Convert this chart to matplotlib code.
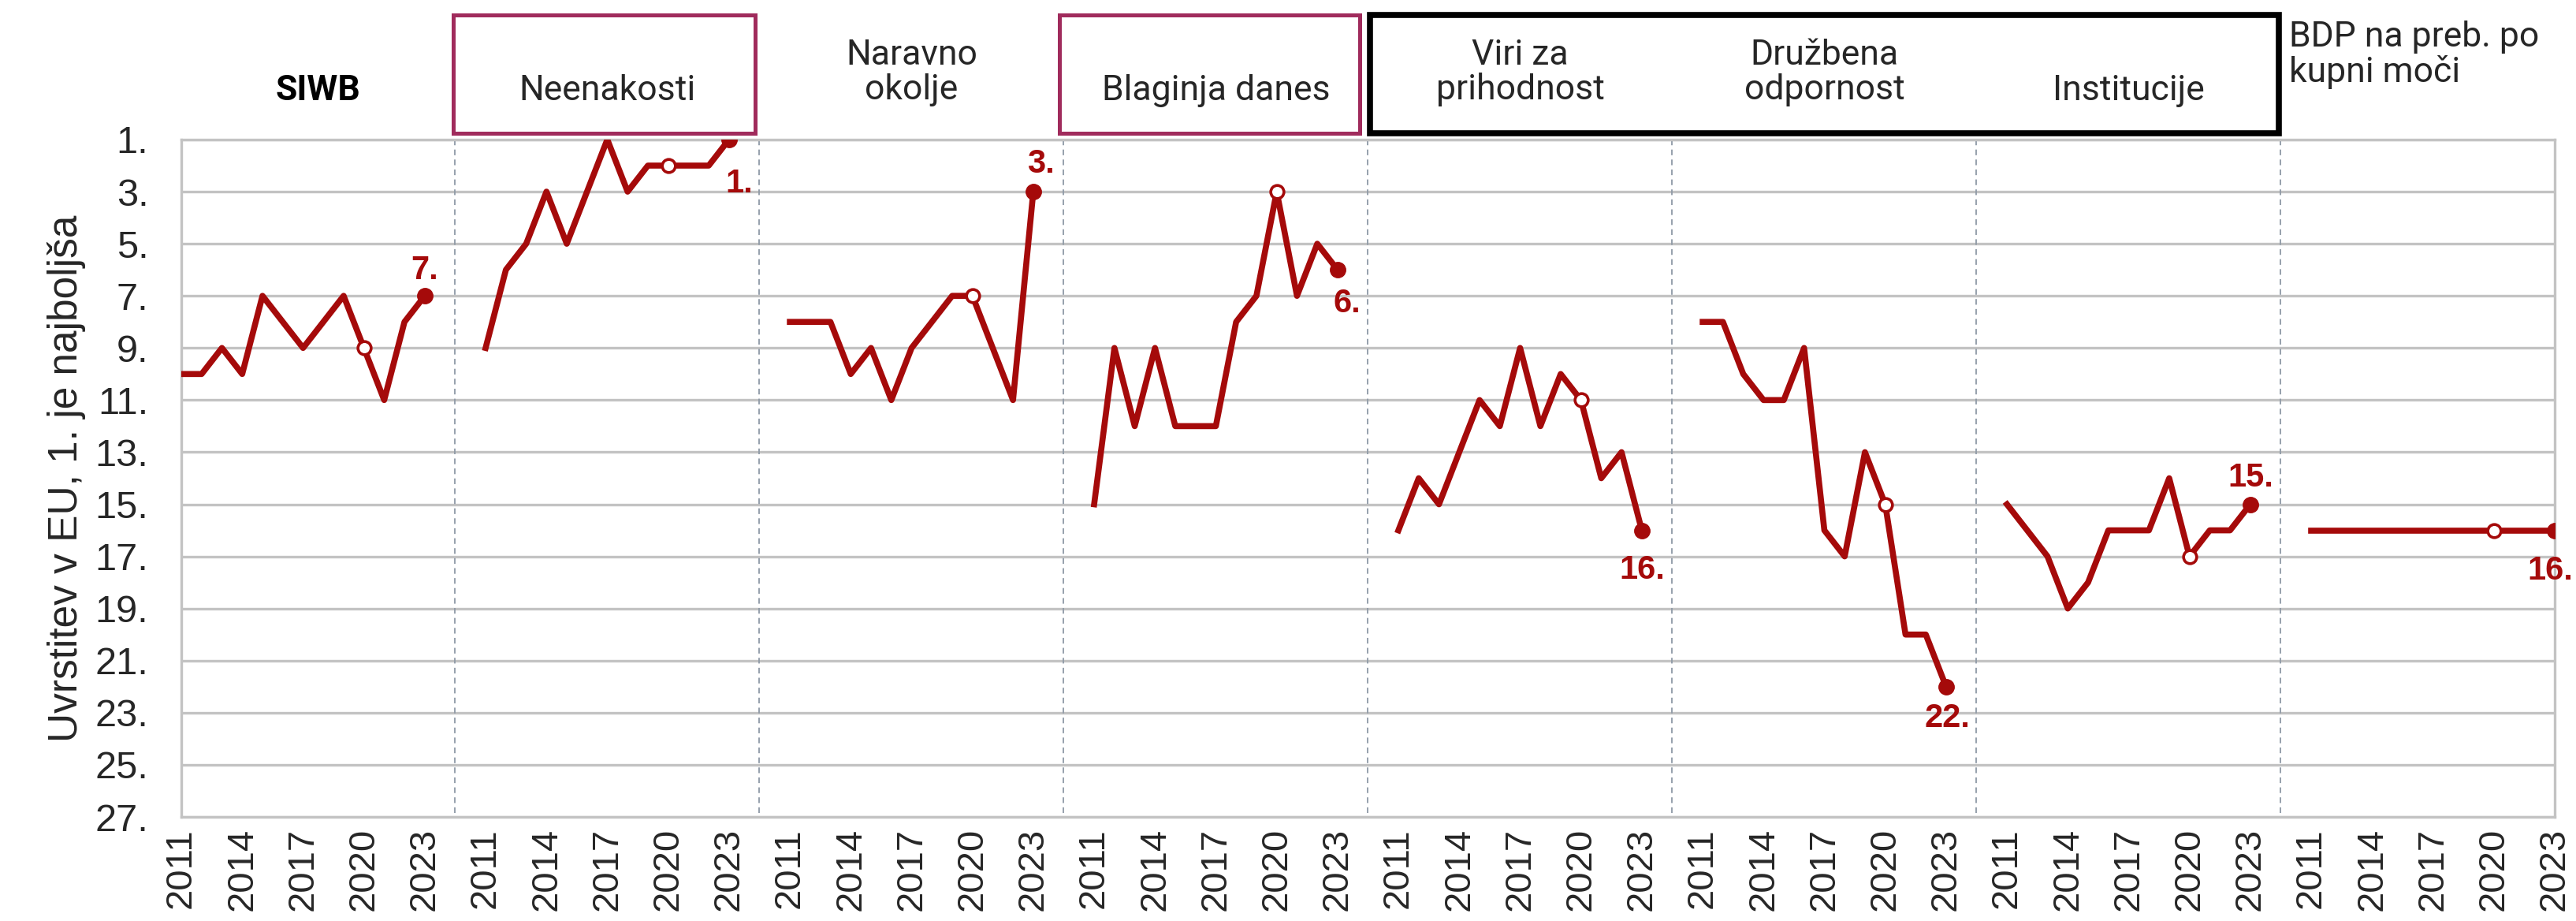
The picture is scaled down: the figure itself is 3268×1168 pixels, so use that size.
import numpy as np
import matplotlib
matplotlib.use("Agg")
import matplotlib.pyplot as plt
from matplotlib.patches import Rectangle
from matplotlib.transforms import blended_transform_factory

# ── data ────────────────────────────────────────────────────────────────────
YEARS = list(range(2011, 2024))
YEAR_TICKS = [2011, 2014, 2017, 2020, 2023]
RANK_TICKS = list(range(1, 28, 2))

PANELS = ["SIWB", "Neenakosti", "Naravno\nokolje", "Blaginja danes",
          "Viri za\nprihodnost", "Družbena\nodpornost", "Institucije",
          "BDP na preb. po\nkupni moči"]

siwb        = [10, 10, 9, 10, 7, 8, 9, 8, 7, 9, 11, 8, 7]
neenakosti  = [9, 6, 5, 3, 5, 3, 1, 3, 2, 2, 2, 2, 1]
naravno     = [8, 8, 8, 10, 9, 11, 9, 8, 7, 7, 9, 11, 3]
blaginja    = [15, 9, 12, 9, 12, 12, 12, 8, 7, 3, 7, 5, 6]
viri        = [16, 14, 15, 13, 11, 12, 9, 12, 10, 11, 14, 13, 16]
druzbena    = [8, 8, 10, 11, 11, 9, 16, 17, 13, 15, 20, 20, 22]
institucije = [15, 16, 17, 19, 18, 16, 16, 16, 14, 17, 16, 16, 15]
bdp         = [16, 16, 16, 16, 16, 16, 16, 16, 16, 16, 16, 16, 16]

SERIES = [siwb, neenakosti, naravno, blaginja, viri, druzbena, institucije, bdp]

# ── style ───────────────────────────────────────────────────────────────────
RED    = "#A50A0A"
GRID   = "#C3C3C3"
SEP    = "#8E99A6"
MAROON = "#A02B5C"
TXT    = "#262626"
STEP   = 15              # categories per panel (13 years + 2 gap)
OPEN_YEAR = 2020

# label offsets in points (dx, dy) for the last value of each panel
LABEL_OFF = [(0, 23), (9, -40), (7, 25), (9, -31), (0, -36), (1, -29), (0, 24), (-4, -37)]

plt.rcParams["font.family"] = ["Liberation Sans", "DejaVu Sans"]

fig = plt.figure(figsize=(32.68, 11.68), dpi=100)
ax = fig.add_axes([0.0704, 0.113, 0.9213, 0.7355])

n_years = len(YEARS)
i_open = YEARS.index(OPEN_YEAR)

for i, vals in enumerate(SERIES):
    xs = i * STEP + np.arange(n_years)
    ax.plot(xs, vals, color=RED, lw=5.5, solid_joinstyle="round", zorder=3)
    ax.plot(xs[i_open], vals[i_open], "o", ms=12, mfc="white", mec=RED, mew=2.6, zorder=4)
    ax.plot(xs[-1], vals[-1], "o", ms=14, color=RED, zorder=4)
    dx, dy = LABEL_OFF[i]
    ax.annotate(f"{vals[-1]}.", (xs[-1], vals[-1]), xytext=(dx, dy),
                textcoords="offset points", ha="center", va="center",
                fontsize=30, fontweight="bold", color=RED, zorder=5)

# grid and separators
for r in RANK_TICKS:
    ax.axhline(r, color=GRID, lw=2.4, zorder=0)
ax.vlines([i * STEP - 1.5 for i in range(1, len(SERIES))], 1, 27,
          colors=SEP, linestyles=(0, (4, 3)), lw=1.3, zorder=1)

ax.set_xlim(0, (len(SERIES) - 1) * STEP + n_years - 1)
ax.set_ylim(27, 1)

for s in ax.spines.values():
    s.set_color(GRID)
    s.set_linewidth(2.4)

ax.set_yticks(RANK_TICKS)
ax.set_yticklabels([f"{r}." for r in RANK_TICKS])
xt = [i * STEP + (y - YEARS[0]) for i in range(len(SERIES)) for y in YEAR_TICKS]
ax.set_xticks(xt)
ax.set_xticklabels([str(y) for _ in SERIES for y in YEAR_TICKS], rotation=90)
ax.tick_params(axis="y", length=0, pad=30, labelsize=35, labelcolor=TXT)
ax.tick_params(axis="x", length=0, pad=10, labelsize=34, labelcolor=TXT)
ax.set_ylabel("Uvrstitev v EU, 1. je najboljša", fontsize=37, color=TXT, labelpad=8)

# ── panel headers ───────────────────────────────────────────────────────────
tr = blended_transform_factory(ax.transData, ax.transAxes)
hfont = ["Roboto", "DejaVu Sans"]
for i, name in enumerate(PANELS):
    lo = i * STEP - 1.5 if i else 0
    hi = i * STEP + 13.5
    two = "\n" in name
    if i == len(PANELS) - 1:
        ax.text(lo + 0.4, 1.125, name, transform=tr, ha="left", va="center",
                fontsize=32, color=TXT, family=hfont, linespacing=1.05)
        continue
    y = 1.099 if two else 1.072
    ax.text((lo + hi) / 2, y, name, transform=tr, ha="center", va="center",
            fontsize=32, color="black" if i == 0 else TXT, family=hfont,
            fontweight="bold" if i == 0 else "normal", linespacing=1.05)

for x0, x1, col, lw in [(13.4, 28.3, MAROON, 3.6), (43.3, 58.1, MAROON, 3.6),
                        (58.6, 103.4, "black", 5.5)]:
    ax.add_patch(Rectangle((x0, 1.009), x1 - x0, 0.175, transform=tr, fill=False,
                           ec=col, lw=lw, clip_on=False, zorder=6))

fig.savefig("out.png", dpi=100, facecolor="white")
